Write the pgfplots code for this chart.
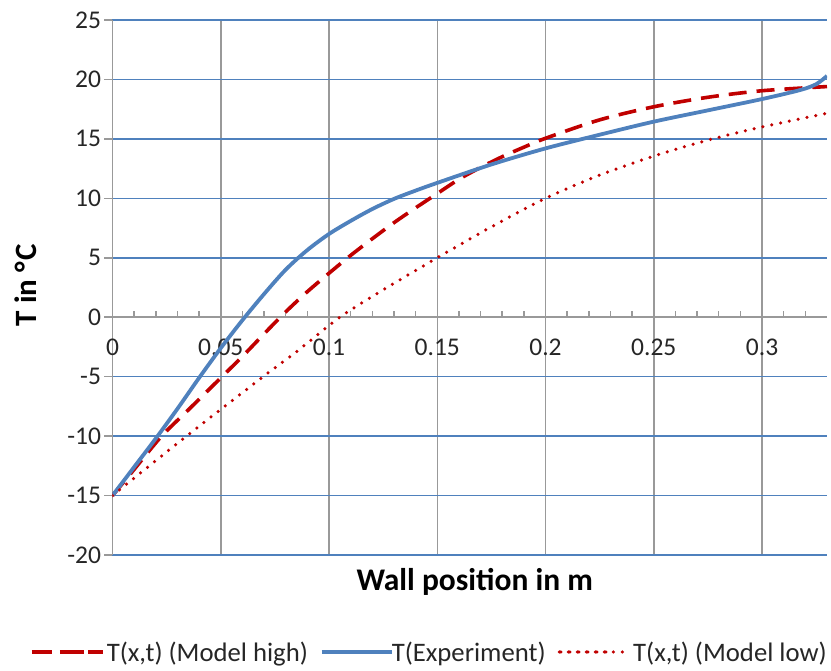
\documentclass[border=0pt]{standalone}
\usepackage{pgfplots}
\pgfplotsset{compat=1.18}
\usepackage{fontspec}
\setmainfont{Carlito}
\definecolor{xblue}{HTML}{4F81BD}
\definecolor{xred}{HTML}{C00000}
\definecolor{xgray}{HTML}{999999}
\definecolor{xtext}{HTML}{262626}
\pgfplotsset{
  legdash/.style={legend image code/.code={\draw[##1, dash pattern=on 20pt off 12pt] (0pt,0pt) -- (52pt,0pt); \path (0pt,0pt) -- (71pt,0pt);}},
  legsolid/.style={legend image code/.code={\draw[##1, overlay] (0pt,0pt) -- (70pt,0pt); \path (0pt,0pt) -- (66pt,0pt);}},
  legdot/.style={legend image code/.code={\draw[##1] (1.5pt,0pt) -- (54pt,0pt); \path (0pt,0pt) -- (70pt,0pt);}},
}
\begin{document}
\begin{tikzpicture}
\begin{axis}[
  scale only axis, width=714.5pt, height=535pt,
  xmin=0, xmax=0.33, ymin=-20, ymax=25,
  axis x line=middle, axis y line=left,
  axis line style={xgray, line width=1.5pt, -},
  hide obscured x ticks=false, hide obscured y ticks=false,
  xtick={0,0.05,0.1,0.15,0.2,0.25,0.3},
  xticklabels={0,0.05,0.1,0.15,0.2,0.25,0.3},
  minor xtick={0.01,0.02,0.03,0.04,0.06,0.07,0.08,0.09,0.11,0.12,0.13,0.14,0.16,0.17,0.18,0.19,0.21,0.22,0.23,0.24,0.26,0.27,0.28,0.29,0.31,0.32},
  ytick={-20,-15,-10,-5,0,5,10,15,20,25},
  xmajorgrids, ymajorgrids,
  x grid style={xgray, line width=1.5pt},
  y grid style={xblue, line width=1.5pt},
  tick align=inside,
  major tick length=8pt, minor tick length=6pt,
  tick style={xgray, line width=1.5pt},
  ytick style={xshift=-8pt},
  /pgf/number format/assume math mode=true,
  ticklabel style={font=\fontsize{25.5}{30}\selectfont, text=xtext},
  xticklabel style={anchor=center, yshift=-30.5pt},
  yticklabel style={anchor=east, xshift=-8pt},
  xlabel={Wall position in m},
  ylabel={T in °\kern2pt C},
  xlabel style={at={(axis description cs:0.5,0)}, anchor=center, xshift=5pt, yshift=-26.5pt, font=\fontsize{31.5}{36}\selectfont\bfseries},
  ylabel style={at={(axis description cs:0,0.5)}, anchor=center, yshift=86.5pt, xshift=2.5pt, font=\fontsize{31}{36}\selectfont\bfseries},
  legend columns=3,
  legend style={draw=none, fill=none, at={(axis description cs:0,0)}, anchor=west, xshift=-82.5pt, yshift=-97pt,
    font=\fontsize{26.7}{30}\selectfont, text=xtext, inner sep=0pt,
    /tikz/every even column/.append style={column sep=10pt}},
]
\addplot[xred, line width=3.6pt, dash pattern=on 18pt off 10pt, smooth, legdash] coordinates {
(0,-15) (0.01,-12.8) (0.0227,-10) (0.035,-7.8) (0.05,-5.1) (0.06,-3.3) (0.07,-1.4) (0.08,0.45) (0.09,2.15)
(0.1,3.7) (0.11,5.2) (0.12,6.6) (0.13,7.95) (0.14,9.2) (0.15,10.4) (0.16,11.6) (0.17,12.6) (0.18,13.5)
(0.19,14.3) (0.2,15.05) (0.225,16.6) (0.25,17.7) (0.275,18.5) (0.3,19.05) (0.33,19.4)
};
\addlegendentry{T(x,t) (Model high)}
\addplot[xblue, line width=3.8pt, smooth, legsolid] coordinates {
(0,-15) (0.01,-12.6) (0.02,-10.2) (0.03,-7.7) (0.04,-5.1) (0.05,-2.6) (0.06,-0.25) (0.07,1.95)
(0.08,4.0) (0.09,5.65) (0.1,7.0) (0.11,8.1) (0.12,9.1) (0.13,9.95) (0.14,10.65) (0.15,11.3)
(0.175,12.85) (0.2,14.2) (0.225,15.35) (0.25,16.45) (0.275,17.4) (0.3,18.35)
(0.3174,19.1) (0.325,19.6) (0.33,20.3)
};
\addlegendentry{T(Experiment)}
\addplot[xred, line width=3.5pt, dash pattern=on 0pt off 9pt, line cap=round, smooth, legdot] coordinates {
(0,-15) (0.0342,-10) (0.0696,-5) (0.085,-2.9) (0.105,0) (0.125,2.3) (0.15,5.0) (0.175,7.6) (0.2,10.0)
(0.225,11.95) (0.25,13.55) (0.275,14.9) (0.3,16.0) (0.33,17.15)
};
\addlegendentry{T(x,t) (Model low)}
\end{axis}
\pgfresetboundingbox
\path ([shift={(-112.5pt,-116pt)}]current axis.south west) rectangle ++(831pt,671pt);
\end{tikzpicture}
\end{document}
